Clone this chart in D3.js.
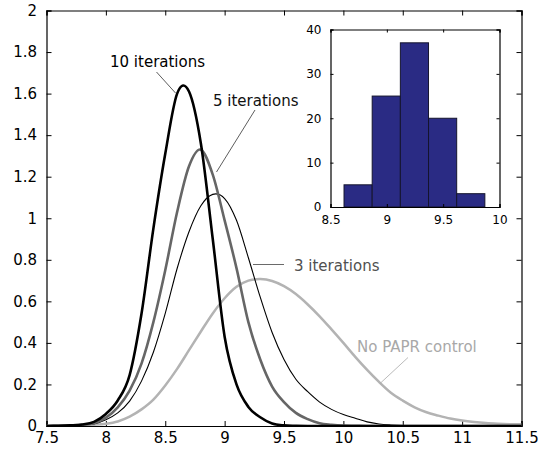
<!DOCTYPE html>
<html>
<head>
<meta charset="utf-8">
<script src="https://cdn.jsdelivr.net/npm/d3@7"></script>
<style>
  body { margin: 0; background: #fff; }
  svg { display: block; }
</style>
</head>
<body>
<div id="chart"></div>
<script>
/* PAPR values (x) and density readings for each curve */
var xs = [7.5, 7.6, 7.7, 7.8, 7.9, 8.0, 8.1, 8.2, 8.3, 8.4,
          8.5, 8.6, 8.7, 8.8, 8.9, 9.0, 9.1, 9.2, 9.3, 9.4,
          9.5, 9.6, 9.7, 9.8, 9.9, 10.0, 10.1, 10.2, 10.3, 10.4,
          10.5, 10.6, 10.7, 10.8, 10.9, 11.0, 11.1, 11.2, 11.3, 11.4, 11.5];

var iter10 = [0, 0.001, 0.003, 0.007, 0.02, 0.058, 0.123, 0.245, 0.54, 0.95,
              1.31, 1.60, 1.61, 1.36, 0.90, 0.43, 0.20, 0.092, 0.042, 0.012,
              0.003, 0.001, 0, 0, 0, 0, 0, 0, 0, 0,
              0, 0, 0, 0, 0, 0, 0, 0, 0, 0, 0];

var iter5 = [0, 0.001, 0.003, 0.006, 0.013, 0.04, 0.09, 0.17, 0.30, 0.50,
             0.75, 1.03, 1.25, 1.33, 1.21, 0.99, 0.76, 0.50, 0.32, 0.19,
             0.115, 0.063, 0.033, 0.013, 0.006, 0.002, 0.001, 0, 0, 0,
             0, 0, 0, 0, 0, 0, 0, 0, 0, 0, 0];

var iter3 = [0, 0.001, 0.002, 0.005, 0.01, 0.03, 0.063, 0.12, 0.216, 0.355,
             0.542, 0.758, 0.935, 1.06, 1.115, 1.095, 0.99, 0.81, 0.62, 0.45,
             0.32, 0.225, 0.165, 0.115, 0.08, 0.055, 0.037, 0.02, 0.01, 0.005,
             0.002, 0.001, 0, 0, 0, 0, 0, 0, 0, 0, 0];

var noControl = [0, 0, 0.001, 0.003, 0.006, 0.011, 0.022, 0.045, 0.08, 0.127,
                 0.195, 0.275, 0.365, 0.455, 0.542, 0.615, 0.67, 0.70, 0.707, 0.698,
                 0.673, 0.635, 0.585, 0.528, 0.465, 0.40, 0.333, 0.27, 0.212, 0.16,
                 0.122, 0.09, 0.066, 0.05, 0.036, 0.026, 0.019, 0.014, 0.011, 0.009, 0.008];

/* Inset histogram */
var binEdges = [8.62, 8.87, 9.12, 9.37, 9.62, 9.87];
var binCounts = [5, 25, 37, 20, 3];

/* Tick labels */
var xTicks = [7.5, 8, 8.5, 9, 9.5, 10, 10.5, 11, 11.5];
var yTicks = [0, 0.2, 0.4, 0.6, 0.8, 1, 1.2, 1.4, 1.6, 1.8, 2];
var insetXTicks = [8.5, 9, 9.5, 10];
var insetYTicks = [0, 10, 20, 30, 40];

var fontFamily = "'DejaVu Sans', Verdana, sans-serif";

var width = 545, height = 455;
var plot = { left: 46.5, right: 521.5, top: 10.5, bottom: 426 };

var svg = d3.select("#chart").append("svg")
    .attr("width", width)
    .attr("height", height);

var x = d3.scaleLinear().domain([7.5, 11.5]).range([plot.left, plot.right]);
var y = d3.scaleLinear().domain([0, 2]).range([plot.bottom, plot.top]);

svg.append("defs").append("clipPath")
    .attr("id", "plotClip")
  .append("rect")
    .attr("x", plot.left)
    .attr("y", plot.top)
    .attr("width", plot.right - plot.left)
    .attr("height", plot.bottom - plot.top);

/* Main axes: ticks inward on all four sides */
var tickLen = 5;
svg.append("g")
    .attr("transform", "translate(0," + plot.bottom + ")")
    .call(d3.axisBottom(x).tickValues(xTicks).tickSize(-tickLen).tickPadding(6)
        .tickFormat(d3.format("")));
svg.append("g")
    .attr("transform", "translate(0," + plot.top + ")")
    .call(d3.axisTop(x).tickValues(xTicks).tickSize(-tickLen).tickFormat(""));
svg.append("g")
    .attr("transform", "translate(" + plot.left + ",0)")
    .call(d3.axisLeft(y).tickValues(yTicks).tickSize(-tickLen).tickPadding(9.5)
        .tickFormat(d3.format("")));
svg.append("g")
    .attr("transform", "translate(" + plot.right + ",0)")
    .call(d3.axisRight(y).tickValues(yTicks).tickSize(-tickLen).tickFormat(""));

svg.selectAll(".domain").attr("stroke", "#000").attr("stroke-width", 1.2);
svg.selectAll(".tick line").attr("stroke", "#000");
svg.selectAll(".tick text")
    .attr("font-family", fontFamily)
    .attr("font-size", 15)
    .attr("fill", "#000");

/* Curves */
var series = [
    { values: noControl, color: "#b3b3b3", width: 2.5 },
    { values: iter3, color: "#000", width: 1.1 },
    { values: iter5, color: "#666", width: 2.6 },
    { values: iter10, color: "#000", width: 2.6 }
];

var line = d3.line()
    .x(function(d) { return x(d[0]); })
    .y(function(d) { return y(d[1]); })
    .curve(d3.curveCardinal.tension(0));

svg.append("g")
    .attr("clip-path", "url(#plotClip)")
    .selectAll("path")
    .data(series)
    .enter().append("path")
    .attr("d", function(s) { return line(xs.map(function(v, i) { return [v, s.values[i]]; })); })
    .attr("fill", "none")
    .attr("stroke", function(s) { return s.color; })
    .attr("stroke-width", function(s) { return s.width; })
    .attr("stroke-linejoin", "round");

/* Curve labels with leader lines */
var labels = [
    { text: "10 iterations", tx: 110, ty: 67, color: "#000", line: [156.5, 72, 175.5, 93], lineColor: "#333" },
    { text: "5 iterations", tx: 213, ty: 106, color: "#111", line: [255, 110, 216.5, 172], lineColor: "#333" },
    { text: "3 iterations", tx: 294, ty: 271, color: "#505050", line: [253, 264.5, 284, 264.5], lineColor: "#444" },
    { text: "No PAPR control", tx: 357, ty: 352, color: "#a8a8a8", line: [408, 357.5, 380, 383.5], lineColor: "#a8a8a8" }
];

var lab = svg.append("g").selectAll("g")
    .data(labels)
    .enter().append("g");

lab.append("line")
    .attr("x1", function(d) { return d.line[0]; })
    .attr("y1", function(d) { return d.line[1]; })
    .attr("x2", function(d) { return d.line[2]; })
    .attr("y2", function(d) { return d.line[3]; })
    .attr("stroke", function(d) { return d.lineColor; })
    .attr("stroke-width", 0.8);

lab.append("text")
    .attr("x", function(d) { return d.tx; })
    .attr("y", function(d) { return d.ty; })
    .attr("font-family", fontFamily)
    .attr("font-size", 15)
    .attr("fill", function(d) { return d.color; })
    .text(function(d) { return d.text; });

/* Inset histogram */
var inset = { left: 330.5, right: 499.5, top: 29.5, bottom: 207 };
var ix = d3.scaleLinear().domain([8.5, 10]).range([inset.left, inset.right]);
var iy = d3.scaleLinear().domain([0, 40]).range([inset.bottom, inset.top]);

var ig = svg.append("g").attr("class", "inset");

ig.append("rect")
    .attr("x", inset.left)
    .attr("y", inset.top)
    .attr("width", inset.right - inset.left)
    .attr("height", inset.bottom - inset.top)
    .attr("fill", "#fff");

ig.selectAll("rect.bar")
    .data(binCounts)
    .enter().append("rect")
    .attr("class", "bar")
    .attr("x", function(d, i) { return ix(binEdges[i]); })
    .attr("y", function(d) { return iy(d); })
    .attr("width", function(d, i) { return ix(binEdges[i + 1]) - ix(binEdges[i]); })
    .attr("height", function(d) { return iy(0) - iy(d); })
    .attr("fill", "#2a2b84")
    .attr("stroke", "#15152e")
    .attr("stroke-width", 1);

var iTick = 3;
ig.append("g")
    .attr("transform", "translate(0," + inset.bottom + ")")
    .call(d3.axisBottom(ix).tickValues(insetXTicks).tickSize(-iTick).tickPadding(8)
        .tickFormat(d3.format("")));
ig.append("g")
    .attr("transform", "translate(0," + inset.top + ")")
    .call(d3.axisTop(ix).tickValues(insetXTicks).tickSize(-iTick).tickFormat(""));
ig.append("g")
    .attr("transform", "translate(" + inset.left + ",0)")
    .call(d3.axisLeft(iy).tickValues(insetYTicks).tickSize(-iTick).tickPadding(9)
        .tickFormat(d3.format("")));
ig.append("g")
    .attr("transform", "translate(" + inset.right + ",0)")
    .call(d3.axisRight(iy).tickValues(insetYTicks).tickSize(-iTick).tickFormat(""));

ig.selectAll(".domain").attr("stroke", "#000").attr("stroke-width", 1.2);
ig.selectAll(".tick line").attr("stroke", "#000");
ig.selectAll(".tick text")
    .attr("font-family", fontFamily)
    .attr("font-size", 12)
    .attr("fill", "#000");
</script>
</body>
</html>
